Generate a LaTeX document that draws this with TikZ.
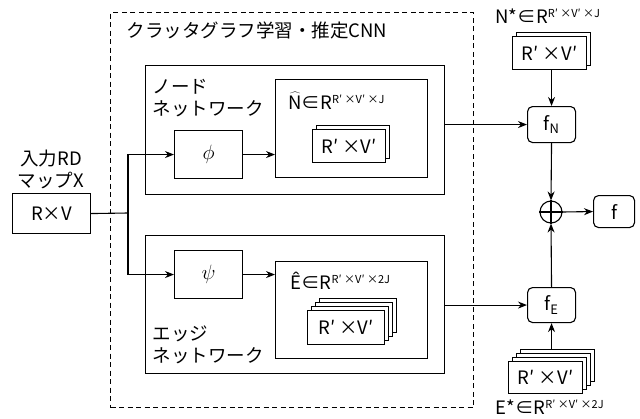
\documentclass[tikz,border=0pt]{standalone}
\usepackage{fontspec}
\setmainfont{Noto Sans CJK JP}
\usetikzlibrary{arrows.meta}
\newcommand\supx[1]{\raisebox{0.32em}{\fontsize{11}{11}\selectfont #1}}
\newcommand\hatN{$\widehat{\hbox{N}}$}
\begin{document}
\begin{tikzpicture}[x=1pt,y=-1pt,line width=1.1pt,
  font=\fontsize{18.5}{22}\selectfont,
  box/.style={draw,fill=white,inner sep=0pt,anchor=north west},
  rbox/.style={box,rounded corners=5pt},
  arr/.style={-{Stealth[length=9pt,width=7pt]}},
  txt/.style={inner sep=0pt,align=left}]
\useasboundingbox (0,0) rectangle (640,418);
% outer dashed box
\node[box,fill=none,dash pattern=on 5pt off 3.5pt,minimum width=363pt,minimum height=395pt] (cnn) at (110,12) {};
\node[txt,anchor=base west] (title) at (126,37) {クラッタグラフ学習・推定CNN};
% node network
\node[box,minimum width=299pt,minimum height=129pt] (nnet) at (145,65) {};
\node[txt,anchor=base west] (nlab) at (152,115) {ノード\\ネットワーク};
\node[box,minimum width=68pt,minimum height=48pt] (phi) at (174,130) {};
\node[font=\fontsize{21}{21}\selectfont] (phit) at (phi.center) {$\phi$};
\node[box,minimum width=152pt,minimum height=98pt] (nhat) at (275,79) {};
\node[txt,anchor=base west] (nhatl) at (288,109) {\hatN∈R\supx{R′ ×V′ ×J}};
\node[box,minimum width=73pt,minimum height=33pt] (ns1) at (316,125) {};
\node[box,minimum width=73pt,minimum height=33pt] (ns0) at (312,129) {R′ ×V′};
% edge network
\node[box,minimum width=299pt,minimum height=138pt] (enet) at (145,235) {};
\node[txt,anchor=base west] (elab) at (152,362) {エッジ\\ネットワーク};
\node[box,minimum width=68pt,minimum height=48pt] (psi) at (174,250) {};
\node[font=\fontsize{21}{21}\selectfont] (psit) at (psi.center) {$\psi$};
\node[box,minimum width=152pt,minimum height=97pt] (ehat) at (275,261) {};
\node[txt,anchor=base west] (ehatl) at (290,289) {Ê∈R\supx{R′ ×V′ ×2J}};
\node[box,minimum width=77pt,minimum height=34pt] (es3) at (319,298) {};
\node[box,minimum width=77pt,minimum height=34pt] (es2) at (315,302) {};
\node[box,minimum width=77pt,minimum height=34pt] (es1) at (311,306) {};
\node[box,minimum width=77pt,minimum height=34pt] (es0) at (307,310) {R′ ×V′};
% input
\node[txt,align=center,anchor=base] (inl) at (51,187) {入力RD\\マップX};
\node[box,minimum width=78pt,minimum height=40pt] (in) at (12,193) {R×V};
\coordinate (br) at (128,213);
\draw (in.east) -- (br);
\draw[arr] (br) |- (phi.west);
\draw[arr] (br) |- (psi.west);
\draw[arr] (phi.east) -- (phi.east -| nhat.west);
\draw[arr] (psi.east) -- (psi.east -| ehat.west);
% right side
\node[txt,anchor=base west] (nsl) at (495,23) {N*∈R\supx{R′ ×V′ ×J}};
\node[box,minimum width=74pt,minimum height=33pt] (nst1) at (516,32) {};
\node[box,minimum width=74pt,minimum height=33pt] (nst0) at (512,36) {R′ ×V′};
\node[rbox,minimum width=48pt,minimum height=36pt] (fN) at (527,106) {f\textsubscript{N}};
\node[draw,circle,minimum size=22pt,inner sep=0pt] (op) at (551,212) {};
\draw (op.north) -- (op.south) (op.west) -- (op.east);
\node[rbox,minimum width=41pt,minimum height=32pt] (f) at (593,195) {f};
\node[rbox,minimum width=48pt,minimum height=35pt] (fE) at (527,287) {f\textsubscript{E}};
\node[box,minimum width=74pt,minimum height=32pt] (est3) at (520,349) {};
\node[box,minimum width=74pt,minimum height=32pt] (est2) at (516,353) {};
\node[box,minimum width=74pt,minimum height=32pt] (est1) at (512,357) {};
\node[box,minimum width=74pt,minimum height=32pt] (est0) at (508,361) {R′ ×V′};
\node[txt,anchor=base west] (esl) at (495,414) {E*∈R\supx{R′ ×V′ ×2J}};
\draw[arr] (fN.west -| nnet.east) -- (fN.west);
\draw[arr] (fE.west -| enet.east) -- (fE.west);
\draw[arr] (fN |- nst0.south) -- (fN.north);
\draw[arr] (fE |- est3.north) -- (fE.south);
\draw[arr] (fN.south) -- (op.north);
\draw[arr] (fE.north) -- (op.south);
\draw[arr] (op.east) -- (f.west);
\end{tikzpicture}
\end{document}
